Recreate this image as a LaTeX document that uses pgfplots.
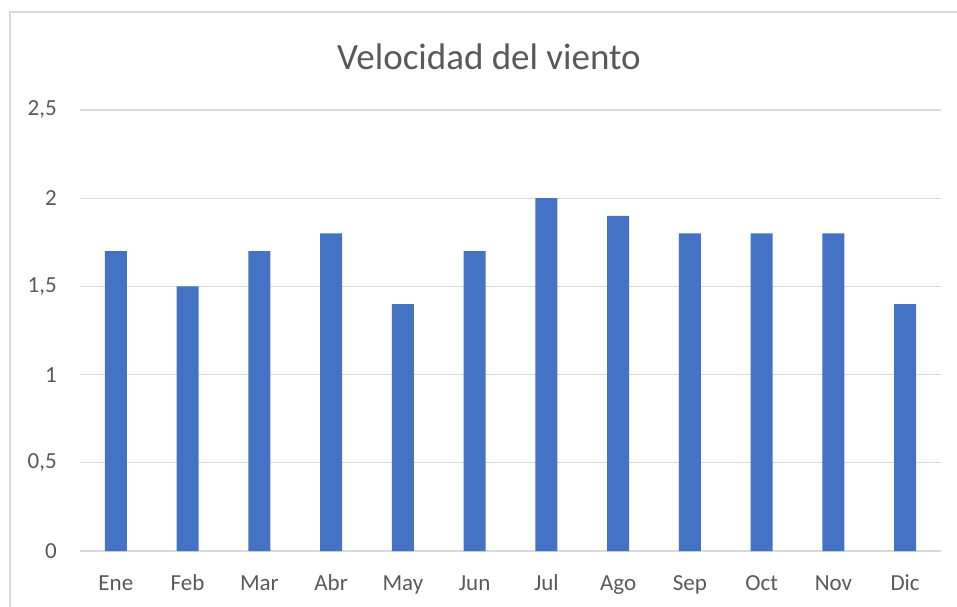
\documentclass[border=0pt]{standalone}
\usepackage{fontspec}
\setmainfont{Carlito}
\usepackage{pgfplots}
\pgfplotsset{compat=1.18}
\definecolor{barblue}{HTML}{4472C4}
\definecolor{gridgray}{HTML}{D9D9D9}
\definecolor{txtgray}{HTML}{595959}
\begin{document}
\begin{tikzpicture}
\useasboundingbox (0,0) rectangle (957pt,606pt);
\clip (0,0) rectangle (957pt,606pt);
\draw[gridgray, line width=1.2pt] (10pt,-20pt) -- (10pt,594pt) -- (1000pt,594pt);
\node[txtgray, font=\fontsize{37}{44}\selectfont] at (489pt,549pt) {Velocidad del viento};
\begin{axis}[
  at={(80pt,55pt)}, anchor=south west,
  scale only axis,
  width=861pt, height=441pt,
  xmin=-0.5, xmax=11.5,
  ymin=0, ymax=2.5,
  ytick={0,0.5,1,1.5,2,2.5},
  xtick=data,
  xticklabels={Ene,Feb,Mar,Abr,May,Jun,Jul,Ago,Sep,Oct,Nov,Dic},
  /pgf/number format/use comma,
  /pgf/number format/assume math mode=true,
  axis line style={draw=none},
  major tick length=0pt,
  ymajorgrids,
  grid style={gridgray, line width=1.2pt},
  yticklabel style={font=\fontsize{23}{27}\selectfont, text=txtgray, inner sep=0pt, xshift=-23pt},
  xticklabel style={font=\fontsize{23}{27}\selectfont, text=txtgray, inner sep=0pt,
    anchor=north, text height=16pt, text depth=5pt, yshift=-23pt},
  ybar, bar width=22pt,
]
\addplot[fill=barblue, draw=none] coordinates {
  (0,1.7) (1,1.5) (2,1.7) (3,1.8) (4,1.4) (5,1.7)
  (6,2.0) (7,1.9) (8,1.8) (9,1.8) (10,1.8) (11,1.4)
};
\end{axis}
\end{tikzpicture}
\end{document}
